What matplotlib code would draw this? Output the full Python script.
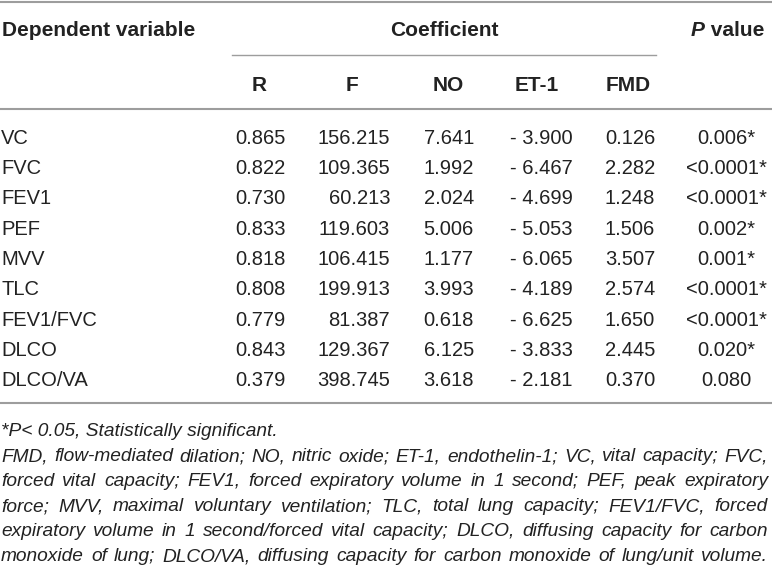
import matplotlib.pyplot as plt
from matplotlib import font_manager

# table content
variables = ['VC', 'FVC', 'FEV1', 'PEF', 'MVV', 'TLC', 'FEV1/FVC', 'DLCO', 'DLCO/VA']
coef_labels = ['R', 'F', 'NO', 'ET-1', 'FMD']
r_vals = [0.865, 0.822, 0.730, 0.833, 0.818, 0.808, 0.779, 0.843, 0.379]
f_vals = [156.215, 109.365, 60.213, 119.603, 106.415, 199.913, 81.387, 129.367, 398.745]
no_vals = [7.641, 1.992, 2.024, 5.006, 1.177, 3.993, 0.618, 6.125, 3.618]
et1_vals = [-3.900, -6.467, -4.699, -5.053, -6.065, -4.189, -6.625, -3.833, -2.181]
fmd_vals = [0.126, 2.282, 1.248, 1.506, 3.507, 2.574, 1.650, 2.445, 0.370]
p_vals = ['0.006*', '<0.0001*', '<0.0001*', '0.002*', '0.001*', '<0.0001*', '<0.0001*', '0.020*', '0.080']

note_first = '*P< 0.05, Statistically significant.'
note_lines = [
    'FMD, flow-mediated dilation; NO, nitric oxide; ET-1, endothelin-1; VC, vital capacity; FVC,',
    'forced vital capacity; FEV1, forced expiratory volume in 1 second; PEF, peak expiratory',
    'force; MVV, maximal voluntary ventilation; TLC, total lung capacity; FEV1/FVC, forced',
    'expiratory volume in 1 second/forced vital capacity; DLCO, diffusing capacity for carbon',
    'monoxide of lung; DLCO/VA, diffusing capacity for carbon monoxide of lung/unit volume.',
]


def fmt(v):
    if v < 0:
        return '- %.3f' % abs(v)
    return '%.3f' % v


plt.rcParams['font.family'] = ['Liberation Sans', 'DejaVu Sans']
installed = {f.name for f in font_manager.fontManager.ttflist}
note_family = 'Liberation Sans Narrow' if 'Liberation Sans Narrow' in installed else 'Liberation Sans'

TXT = '#222222'
RULE = '#9d9d9d'

fig = plt.figure(figsize=(7.72, 5.79), dpi=100)
ax = fig.add_axes([0, 0, 1, 1])
ax.set_xlim(0, 772)
ax.set_ylim(579, 0)
ax.axis('off')
renderer = fig.canvas.get_renderer()

# rules
ax.plot([0, 772], [1.5, 1.5], color=RULE, lw=1.5)
ax.plot([232, 656], [55, 55], color=RULE, lw=1.0)
ax.plot([0, 772], [109, 109], color=RULE, lw=1.5)
ax.plot([0, 772], [403, 403], color=RULE, lw=1.5)

# header
hs = 15
ax.text(2, 36, 'Dependent variable', fontsize=hs, fontweight='bold', color=TXT, va='baseline')
ax.text(444, 36, 'Coefficient', fontsize=hs, fontweight='bold', color=TXT, va='baseline', ha='center')
tv = ax.text(764, 36, ' value', fontsize=hs, fontweight='bold', color=TXT, va='baseline', ha='right')
wv = tv.get_window_extent(renderer).width
ax.text(764 - wv, 36, 'P', fontsize=hs, fontweight='bold', fontstyle='italic', color=TXT,
        va='baseline', ha='right')

sub_x = [259, 352, 448, 537, 628]
for lab, x in zip(coef_labels, sub_x):
    ax.text(x, 91, lab, fontsize=hs, fontweight='bold', color=TXT, va='baseline', ha='center')

# body rows
bs = 14.5
col_right = [286, 390, 474, 573, 655]
cols = [r_vals, f_vals, no_vals, et1_vals, fmd_vals]
for i, name in enumerate(variables):
    y = 137 + i * 30.25 + 7
    ax.text(1, y, name, fontsize=bs, color=TXT, va='baseline')
    for vals, x in zip(cols, col_right):
        ax.text(x, y, fmt(vals[i]), fontsize=bs, color=TXT, va='baseline', ha='right')
    ax.text(726, y, p_vals[i], fontsize=bs, color=TXT, va='baseline', ha='center')

# footnotes, justified to full width
left, right = 1, 768
ns = 14.5


def line_width(ln, size):
    t = ax.text(0, 0, ln, fontsize=size, fontstyle='italic', family=note_family)
    w = t.get_window_extent(renderer).width
    t.remove()
    return w


while max(line_width(ln, ns) for ln in note_lines) > right - left and ns > 9:
    ns -= 0.25

ax.text(left, 436, note_first, fontsize=ns, fontstyle='italic', family=note_family,
        color=TXT, va='baseline')
for k, ln in enumerate(note_lines):
    y = 461 + k * 25
    words = ln.split(' ')
    objs = [ax.text(0, y, wd, fontsize=ns, fontstyle='italic', family=note_family,
                    color=TXT, va='baseline') for wd in words]
    widths = [o.get_window_extent(renderer).width for o in objs]
    gap = (right - left - sum(widths)) / (len(words) - 1)
    x = left
    for o, wdt in zip(objs, widths):
        o.set_x(x)
        x += wdt + gap

fig.savefig('out.png', dpi=100)
